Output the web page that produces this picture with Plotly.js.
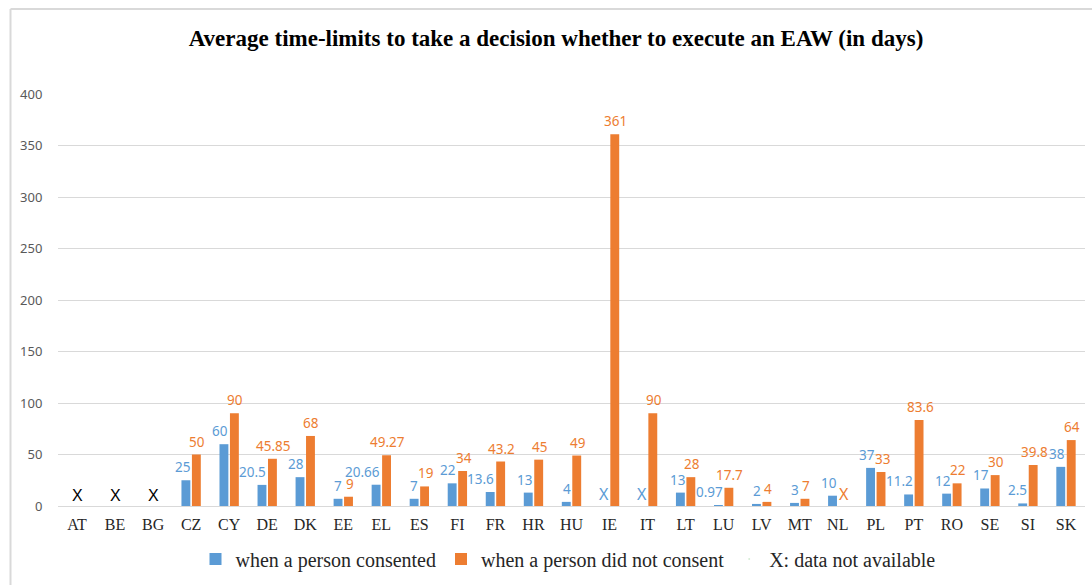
<!DOCTYPE html>
<html>
<head>
<meta charset="utf-8">
<script src="https://cdn.plot.ly/plotly-3.0.1.min.js"></script>
<style>
  html, body { margin: 0; padding: 0; background: #ffffff; }
  #chart { width: 1092px; height: 585px; }
</style>
</head>
<body>
<div id="chart"></div>
<script>
// ---- data ----
const countries = ['AT','BE','BG','CZ','CY','DE','DK','EE','EL','ES','FI','FR','HR','HU','IE','IT','LT','LU','LV','MT','NL','PL','PT','RO','SE','SI','SK'];
// null = no value; 'X' = data not available marker for that series
const consented    = [null,null,null,25,60,20.5,28,7,20.66,7,22,13.6,13,4,'X','X',13,0.97,2,3,10,37,11.2,12,17,2.5,38];
const notConsented = [null,null,null,50,90,45.85,68,9,49.27,19,34,43.2,45,49,361,90,28,17.7,4,7,'X',33,83.6,22,30,39.8,64];
// countries with no data at all (black X centred on the category)
const noDataCountries = ['AT','BE','BG'];
const yTicks = [0,50,100,150,200,250,300,350,400];

const seriesNames = ['when a person consented','when a person did not consent'];
const legendExtra = 'X: data not available';
const titleText = 'Average time-limits to take a decision whether to execute an EAW (in days)';

const BLUE = '#5B9BD5';
const ORANGE = '#ED7D31';
const LABEL_FONT = '"Noto Sans", "Open Sans", sans-serif';
const SERIF = '"Liberation Serif", "DejaVu Serif", serif';

const L = 58, R = 7, T = 94, B = 72;
const W = 1092, H = 585;
const pw = W - L - R, ph = H - T - B;
const px = v => (v - L) / pw;
const py = v => (H - B - v) / ph;

const BARGAP = 0.45, BARGROUPGAP = 0.15;
const catW = pw / countries.length;
const slotW = catW * (1 - BARGAP) / 2;

function barTrace(values, name, color) {
  return {
    type: 'bar',
    name: name,
    x: countries,
    y: values.map(v => (v === 'X' || v === null) ? null : v),
    marker: { color: color },
    hoverinfo: 'skip'
  };
}

// value labels as annotations (drawn above every bar, like the reference)
const annotations = [];
function addLabels(values, color, side) {
  values.forEach((v, i) => {
    if (v === null) return;
    const isX = v === 'X';
    annotations.push({
      xref: 'x', yref: 'y',
      x: countries[i],
      y: isX ? 0 : v,
      text: isX ? 'X' : String(v),
      showarrow: false,
      xanchor: side === 'left' ? 'right' : 'center',
      yanchor: 'bottom',
      xshift: side === 'left' ? 0 : slotW / 2 + 1,
      yshift: isX ? 0 : 3,
      borderpad: 0,
      font: { family: LABEL_FONT, size: isX ? 16 : 13.5, color: color }
    });
  });
}
addLabels(consented, BLUE, 'left');
addLabels(notConsented, ORANGE, 'right');
noDataCountries.forEach(c => {
  annotations.push({
    xref: 'x', yref: 'y', x: c, y: 0, text: 'X', showarrow: false,
    xanchor: 'center', yanchor: 'bottom',
    font: { family: '"Liberation Sans", Arial, sans-serif', size: 16, color: '#000000' }
  });
});

const traces = [
  barTrace(consented, seriesNames[0], BLUE),
  barTrace(notConsented, seriesNames[1], ORANGE),
  {
    type: 'scatter',
    mode: 'markers',
    name: legendExtra,
    x: [countries[0]],
    y: [null],
    marker: { opacity: 0, size: 1 },
    hoverinfo: 'skip'
  }
];

const layout = {
  width: W,
  height: H,
  margin: { l: L, r: R, t: T, b: B, pad: 0 },
  paper_bgcolor: '#ffffff',
  plot_bgcolor: '#ffffff',
  barmode: 'group',
  bargap: BARGAP,
  bargroupgap: BARGROUPGAP,
  hovermode: false,
  title: {
    text: '<b>' + titleText + '</b>',
    font: { family: SERIF, size: 23, color: '#000000' },
    x: (556 - L) / pw,
    xanchor: 'center',
    xref: 'paper',
    y: 1 - 38 / H,
    yanchor: 'middle',
    yref: 'container'
  },
  xaxis: {
    type: 'category',
    categoryorder: 'array',
    categoryarray: countries,
    range: [-0.5, countries.length - 0.5],
    autorange: false,
    showgrid: false,
    showline: true,
    linecolor: '#d9d9d9',
    linewidth: 1,
    ticks: 'outside',
    ticklen: 4,
    tickcolor: 'rgba(0,0,0,0)',
    tickfont: { family: SERIF, size: 16, color: '#262626' },
    fixedrange: true
  },
  yaxis: {
    range: [0, 400],
    autorange: false,
    tickvals: yTicks,
    showgrid: true,
    gridcolor: '#d9d9d9',
    gridwidth: 1,
    zeroline: false,
    showline: false,
    ticks: 'outside',
    ticklen: 12,
    tickcolor: 'rgba(0,0,0,0)',
    tickfont: { family: LABEL_FONT, size: 13, color: '#595959' },
    fixedrange: true
  },
  legend: {
    orientation: 'h',
    x: px(568),
    xanchor: 'center',
    y: py(547),
    yanchor: 'top',
    font: { family: SERIF, size: 20, color: '#262626' },
    bgcolor: 'rgba(0,0,0,0)',
    itemclick: false,
    itemdoubleclick: false
  },
  annotations: annotations,
  shapes: [
    { type: 'line', xref: 'paper', yref: 'paper', x0: px(10.5), x1: px(1100), y0: py(7.5), y1: py(7.5),
      line: { color: '#d9d9d9', width: 2 } },
    { type: 'line', xref: 'paper', yref: 'paper', x0: px(10.5), x1: px(10.5), y0: py(7.5), y1: py(600),
      line: { color: '#d9d9d9', width: 2 } }
  ]
};

Plotly.newPlot('chart', traces, layout, { staticPlot: true, displayModeBar: false });
</script>
</body>
</html>
